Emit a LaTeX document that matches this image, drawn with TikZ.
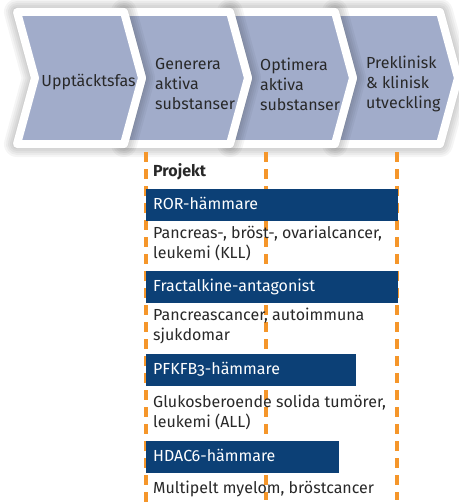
\documentclass[tikz,border=0pt]{standalone}
\usepackage{fontspec}
\setmainfont{Fira Sans}[Numbers=OldStyle]
\definecolor{chev}{RGB}{161,172,202}
\definecolor{barblue}{RGB}{12,64,118}
\definecolor{dashor}{RGB}{245,150,42}
\definecolor{txt}{RGB}{40,40,40}
\tikzset{
  chevtext/.style={text=txt, font=\fontsize{16}{20}\selectfont, align=left, inner sep=0pt, anchor=west},
  bodytext/.style={text=txt, font=\fontsize{16}{20}\selectfont, inner sep=0pt, anchor=base west},
  bar/.style={fill=barblue, text=white, font=\fontsize{16}{20}\selectfont, anchor=north west, minimum height=32pt,
    inner xsep=7pt, inner ysep=0pt, align=left, text height=11.5pt, text depth=3.5pt},
  orline/.style={draw=dashor, line width=3.5pt, dash pattern=on 10pt off 7pt},
}
\begin{document}
\begin{tikzpicture}[x=1pt,y=-1pt]
\useasboundingbox (0,0) rectangle (458,503);
\fill[white] (0,0) rectangle (458,503);
% chevrons, drawn right to left so that each overlaps the next
\foreach \a/\b in {335/440,230/335,124/230,17/124}{
  \foreach \w in {10,14,18,22,26}{
    \draw[draw opacity=0.04, line width=\w pt, line join=round]
      (\a,12) -- (\b,12) -- ({\b+18},78) -- (\b,144) -- (\a,144) -- ({\a+18},78) -- cycle;
  }
  \filldraw[fill=chev, draw=white, line width=8pt, line join=round]
    (\a,12) -- (\b,12) -- ({\b+18},78) -- (\b,144) -- (\a,144) -- ({\a+18},78) -- cycle;
}
\node[bodytext, anchor=base] (c1) at (88.5,86) {Upptäcktsfas};
\node[chevtext] (c2) at (155,84) {Generera\\aktiva\\substanser};
\node[chevtext] (c3) at (260,84) {Optimera\\aktiva\\substanser};
\node[chevtext] (c4) at (366,84) {Preklinisk\\\& klinisk\\utveckling};
% dashed phase lines
\coordinate (l1t) at (146,152); \coordinate (l1b) at (146,503);
\coordinate (l2t) at (266,152); \coordinate (l2b) at (266,500);
\coordinate (l3t) at (397,152); \coordinate (l3b) at (397,500);
\draw[orline] (l1t) -- (l1b);
\draw[orline] (l2t) -- (l2b);
\draw[orline] (l3t) -- (l3b);
% projects
\node[bodytext, font=\fontsize{16}{20}\selectfont\bfseries] (proj) at (153,176) {Projekt};
\node[bar, minimum width=252pt, text width=238pt] (b1) at (146,189) {ROR-hämmare};
\node[bodytext] (t1a) at (153,238) {Pancreas-, bröst-, ovarialcancer,};
\node[bodytext] (t1b) at (153,258) {leukemi (KLL)};
\node[bar, minimum width=252pt, text width=238pt] (b2) at (146,271) {Fractalkine-antagonist};
\node[bodytext] (t2a) at (153,320) {Pancreascancer, autoimmuna};
\node[bodytext] (t2b) at (153,340) {sjukdomar};
\node[bar, minimum width=210pt, text width=196pt] (b3) at (146,354) {PFKFB3-hämmare};
\node[bodytext] (t3a) at (153,407) {Glukosberoende solida tumörer,};
\node[bodytext] (t3b) at (153,427) {leukemi (ALL)};
\node[bar, minimum width=193pt, text width=179pt] (b4) at (146,441) {HDAC6-hämmare};
\node[bodytext] (t4) at (153,493) {Multipelt myelom, bröstcancer};
\end{tikzpicture}
\end{document}
